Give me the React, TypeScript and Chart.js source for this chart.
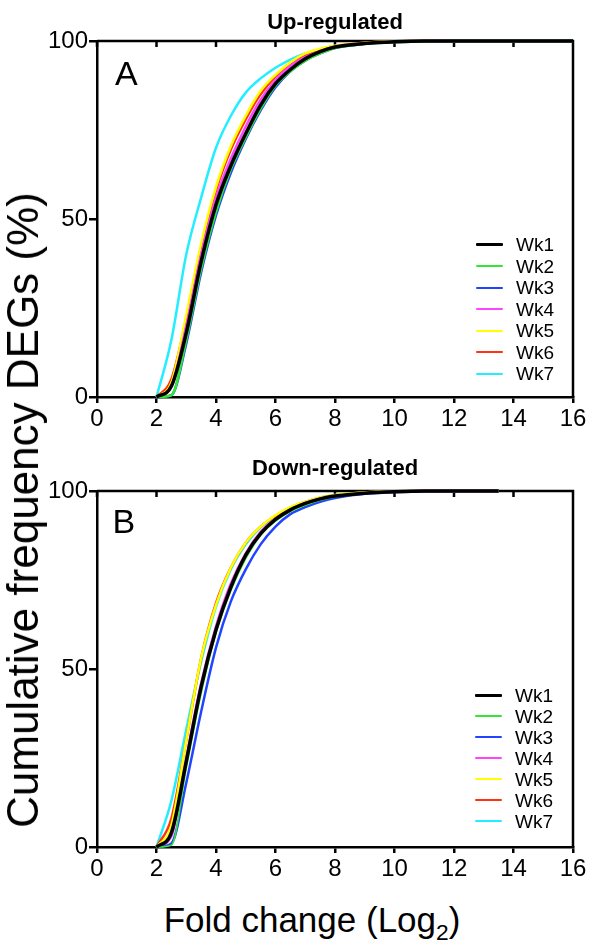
import React, { useEffect, useRef } from "react";
import { Chart, registerables } from "chart.js";

Chart.register(...registerables);

// ---------------- data ----------------
const weekLabels = ["Wk1", "Wk2", "Wk3", "Wk4", "Wk5", "Wk6", "Wk7"];
const weekColors = ["#000000", "#33e633", "#2244ff", "#ff44ff", "#ffff00", "#ff3311", "#22eeff"];

const xTickStep = 2;
const xMin = 0;
const xMax = 16;
const yMin = 0;
const yMax = 100;
const yTickStep = 50;

// Up-regulated (Log2 fold change vs cumulative %)
const upFoldChange = [2, 2.5, 3, 3.5, 4, 4.5, 5, 5.5, 6, 6.5, 7, 7.5, 8, 9, 10, 11, 12, 14, 16];
const upWk1 = [0, 3, 18, 38, 54, 65, 74, 82, 88, 92, 95, 97, 98.3, 99.3, 99.8, 100, 100, 100, 100];
const upWk2 = [0, 0.5, 16, 36, 52, 64, 73, 81, 87.5, 91.5, 94.5, 96.5, 98, 99.2, 99.7, 99.9, 100, 100, 100];
const upWk3 = [0, 0.5, 15, 35, 51, 63, 72.5, 80.5, 87, 91.5, 94.5, 96.5, 98, 99.2, 99.7, 99.9, 100, 100, 100];
const upWk4 = [0, 3, 20, 40, 56, 67, 76, 83.5, 89, 93, 95.5, 97.2, 98.4, 99.4, 99.8, 100, 100, 100, 100];
const upWk5 = [0, 4, 23, 43, 59, 70.5, 79, 86, 90.5, 94, 96.5, 97.8, 98.7, 99.5, 99.9, 100, 100, 100, 100];
const upWk6 = [0, 5, 22, 42, 58, 69.5, 78, 85, 90, 93.5, 96, 97.6, 98.6, 99.5, 99.9, 100, 100, 100, 100];
const upWk7 = [0, 16, 40, 56, 70, 79, 85.5, 89.5, 92.5, 94.8, 96.5, 97.6, 98.5, 99.4, 99.8, 100, 100, 100, 100];

// Down-regulated
const downFoldChange = [2, 2.5, 3, 3.5, 4, 4.5, 5, 5.5, 6, 6.5, 7, 7.5, 8, 9, 10, 11, 12, 13.5];
const downWk1 = [0, 4, 24, 45, 61, 73, 82, 88, 92, 94.7, 96.5, 97.8, 98.6, 99.4, 99.8, 100, 100, 100];
const downWk2 = [0, 0.5, 22, 43, 60, 72, 81, 87.5, 91.5, 94.2, 96, 97.4, 98.3, 99.3, 99.8, 100, 100, 100];
const downWk3 = [0, 1, 18, 38, 56, 69, 78, 85, 90, 93.5, 95.5, 97, 98, 99.2, 99.7, 99.9, 100, 100];
const downWk4 = [0, 3, 25, 46, 62, 74, 82.5, 88.5, 92.2, 94.8, 96.6, 97.8, 98.6, 99.4, 99.8, 100, 100, 100];
const downWk5 = [0, 6, 30, 53, 68, 78.5, 85.5, 90, 93.2, 95.5, 97, 98.2, 98.9, 99.6, 99.9, 100, 100, 100];
const downWk6 = [0, 8, 30, 53, 68.5, 78.5, 85.5, 90, 93, 95.3, 96.9, 98.1, 98.8, 99.6, 99.9, 100, 100, 100];
const downWk7 = [0, 13, 33, 52, 67.5, 78, 85, 89.8, 92.8, 95.2, 96.8, 98, 98.8, 99.5, 99.9, 100, 100, 100];

const upSeries = [upWk1, upWk2, upWk3, upWk4, upWk5, upWk6, upWk7];
const downSeries = [downWk1, downWk2, downWk3, downWk4, downWk5, downWk6, downWk7];

const upTitle = "Up-regulated";
const downTitle = "Down-regulated";
const yTitle = "Cumulative frequency DEGs (%)";
const xTitleMain = "Fold change (Log";
const xTitleSub = "2";

// ---------------- styling ----------------
const FONT = "'Liberation Sans', Arial, Helvetica, sans-serif";
const upWidths = [3.5, 2.5, 2.5, 2.5, 2.5, 2.5, 2.5];
const downWidths = [3.5, 1.5, 2.5, 2.5, 2.5, 2.5, 2.5];

const framePlugin = {
  id: "frame",
  beforeDatasetsDraw(chart: any) {
    const { ctx, chartArea } = chart;
    const xs = chart.scales.x;
    ctx.save();
    ctx.strokeStyle = "#000";
    ctx.lineWidth = 2.5;
    ctx.beginPath();
    ctx.moveTo(chartArea.left, chartArea.top);
    ctx.lineTo(chartArea.right, chartArea.top);
    ctx.lineTo(chartArea.right, chartArea.bottom);
    xs.ticks.forEach((t: any) => {
      const px = xs.getPixelForValue(t.value);
      ctx.moveTo(px, chartArea.top);
      ctx.lineTo(px, chartArea.top + 6);
    });
    ctx.stroke();
    ctx.restore();
  },
};

function makeConfig(xs: number[], series: number[][], widths: number[]): any {
  return {
    type: "line",
    data: {
      datasets: series.map((vals, i) => ({
        label: weekLabels[i],
        data: vals.map((v, j) => ({ x: xs[j], y: v })),
        borderColor: weekColors[i],
        backgroundColor: weekColors[i],
        borderWidth: widths[i],
        pointRadius: 0,
        fill: false,
        cubicInterpolationMode: "monotone",
        order: i === 0 ? 0 : 1,
        clip: false,
      })),
    },
    options: {
      animation: false,
      responsive: false,
      devicePixelRatio: 1,
      layout: { padding: { left: 0, right: 17, top: 41, bottom: 0 } },
      plugins: { legend: { display: false }, tooltip: { enabled: false }, title: { display: false } },
      scales: {
        x: {
          type: "linear",
          min: xMin,
          max: xMax,
          ticks: {
            stepSize: xTickStep,
            color: "#000",
            font: { family: FONT, size: 24 },
            padding: 2,
            maxRotation: 0,
            autoSkip: false,
          },
          grid: { drawOnChartArea: false, drawTicks: true, tickLength: 6, color: "#000", lineWidth: 2.5 },
          border: { display: true, color: "#000", width: 2.5 },
          afterFit: (s: any) => {
            s.height = 43;
          },
        },
        y: {
          type: "linear",
          min: yMin,
          max: yMax,
          ticks: {
            stepSize: yTickStep,
            color: "#000",
            font: { family: FONT, size: 24 },
            padding: 1,
          },
          grid: { drawOnChartArea: false, drawTicks: true, tickLength: 8, color: "#000", lineWidth: 2.5 },
          border: { display: true, color: "#000", width: 2.5 },
          afterFit: (s: any) => {
            s.width = 97;
          },
        },
      },
    },
    plugins: [framePlugin],
  };
}

function Legend(props: { top: number; left: number; spacing: number; widths: number[] }) {
  const { top, left, spacing, widths } = props;
  return (
    <div style={{ position: "absolute", left, top }}>
      {weekLabels.map((lab, i) => (
        <div
          key={lab}
          style={{
            position: "absolute",
            left: 0,
            top: i * spacing - 10,
            height: 20,
            display: "flex",
            alignItems: "center",
            whiteSpace: "nowrap",
          }}
        >
          <div
            style={{
              width: 27,
              height: Math.max(2, widths[i] - 0.5),
              background: weekColors[i],
              borderRadius: 1,
            }}
          />
          <span style={{ marginLeft: 13, fontSize: 19, lineHeight: 1 }}>{lab}</span>
        </div>
      ))}
    </div>
  );
}

export default function App() {
  const topRef = useRef<HTMLCanvasElement | null>(null);
  const botRef = useRef<HTMLCanvasElement | null>(null);

  useEffect(() => {
    const c1 = new Chart(topRef.current as HTMLCanvasElement, makeConfig(upFoldChange, upSeries, upWidths));
    const c2 = new Chart(botRef.current as HTMLCanvasElement, makeConfig(downFoldChange, downSeries, downWidths));
    return () => {
      c1.destroy();
      c2.destroy();
    };
  }, []);

  return (
    <div
      style={{
        position: "absolute",
        left: 0,
        top: 0,
        width: 590,
        height: 947,
        background: "#fff",
        fontFamily: FONT,
        color: "#000",
        overflow: "hidden",
      }}
    >
      <canvas ref={topRef} width={590} height={440} style={{ position: "absolute", left: 0, top: 0 }} />
      <canvas ref={botRef} width={590} height={440} style={{ position: "absolute", left: 0, top: 450 }} />

      <div
        style={{
          position: "absolute",
          left: 335,
          top: 11,
          transform: "translateX(-50%)",
          fontSize: 22,
          fontWeight: "bold",
          lineHeight: 1,
          whiteSpace: "nowrap",
        }}
      >
        {upTitle}
      </div>
      <div
        style={{
          position: "absolute",
          left: 335,
          top: 457,
          transform: "translateX(-50%)",
          fontSize: 22,
          fontWeight: "bold",
          lineHeight: 1,
          whiteSpace: "nowrap",
        }}
      >
        {downTitle}
      </div>

      <div style={{ position: "absolute", left: 115, top: 55.5, fontSize: 34, lineHeight: 1 }}>A</div>
      <div style={{ position: "absolute", left: 112.5, top: 503.5, fontSize: 34, lineHeight: 1 }}>B</div>

      <Legend top={244.5} left={476} spacing={21.5} widths={upWidths} />
      <Legend top={695} left={475} spacing={21} widths={downWidths} />

      <div
        style={{
          position: "absolute",
          left: 22.8,
          top: 510,
          transform: "translate(-50%, -50%) rotate(-90deg)",
          fontSize: 44,
          lineHeight: 1,
          whiteSpace: "nowrap",
        }}
      >
        {yTitle}
      </div>

      <div
        style={{
          position: "absolute",
          left: 312,
          top: 902,
          transform: "translateX(-50%)",
          fontSize: 35,
          lineHeight: 1,
          whiteSpace: "nowrap",
        }}
      >
        {xTitleMain}
        <span style={{ fontSize: "0.65em", verticalAlign: "-0.35em" }}>{xTitleSub}</span>)
      </div>
    </div>
  );
}
